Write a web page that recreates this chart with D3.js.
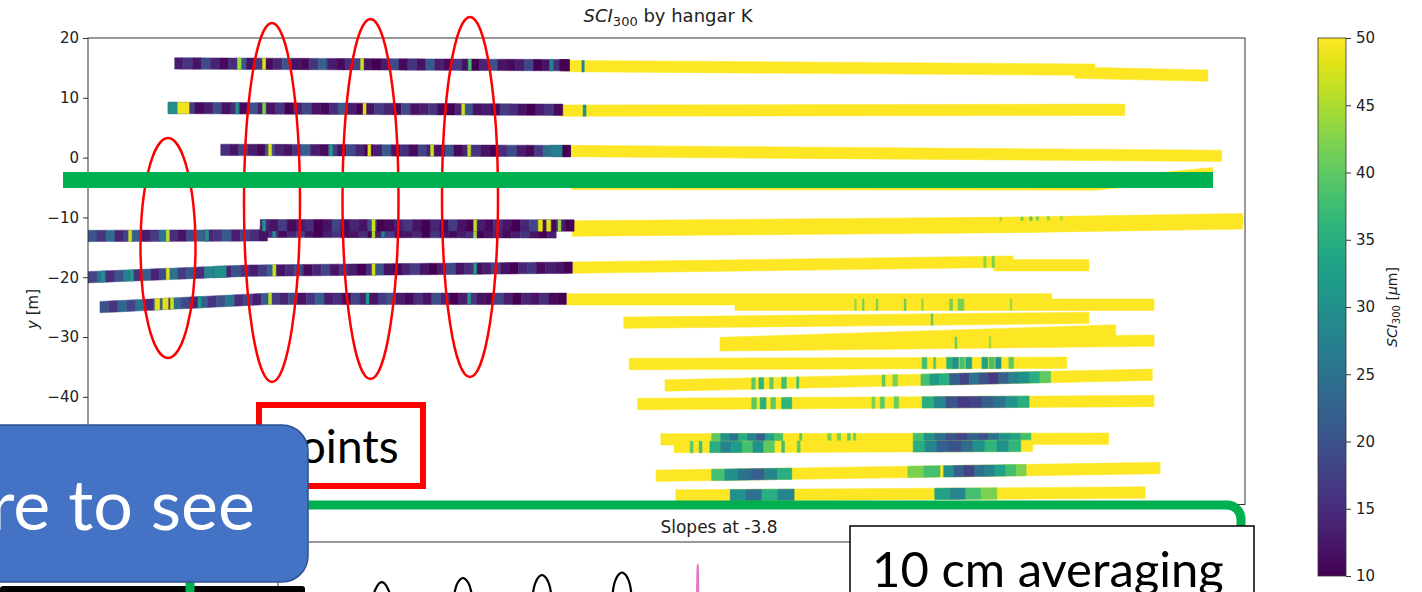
<!DOCTYPE html>
<html>
<head>
<meta charset="utf-8">
<script src="https://cdn.jsdelivr.net/npm/d3@7"></script>
<style>
  html, body { margin: 0; padding: 0; background: #fff; }
  svg { display: block; }
  .mpl text { font-family: "DejaVu Sans", sans-serif; fill: #222; }
  .slide { font-family: "Lato", "Open Sans", sans-serif; }
</style>
</head>
<body>
<svg id="fig" width="1422" height="592"></svg>
<script>
// ---------------------------------------------------------------
// Survey tracks of SCI300 [µm] around hangar K.
// Each track: centreline nodes [x m, y m]; dark (measured) parts
// carry a cell sequence of 1.5 m cells; spots are [x0, x1, value].
// ---------------------------------------------------------------
const cellStep = 1.5;

// upper three tracks (west part measured, east part saturated)
const lineA = [[4.5, 15.75], [70.5, 15.45]];
const cellsA = [13,16,12,19,14,11,15,21,12,17,11,14,20,12,11,16,22,13,11,15,18,12,10,13,19,11,16,12,21,13,11,17,12,10,14,20,12,11,13,18,10,12,15,11];
const spotsA = [[15.0,15.6,44],[19.2,19.7,48],[35.6,36.1,47],[53.6,54.1,38],[67.2,67.8,28],[68.9,70.5,10]];
const lineAy = [[70.1, 15.3], [158.4, 14.7]];
const spotsAy = [[72.6, 73.0, 28]];
const lineA2y = [[155.0, 14.2], [177.3, 13.7]];

const lineB = [[3.4, 8.3], [69.4, 8.0]];
const cellsB = [14,12,17,11,13,19,12,15,11,20,13,12,16,10,14,18,12,11,15,21,13,10,12,17,14,11,19,12,13,16,11,10,14,20,12,13,11,17,15,12,10,13,16,11];
const spotsB = [[3.4,5.0,30],[5.0,6.9,49],[14.7,15.2,30],[19.2,19.7,42],[36.0,36.5,48],[52.5,53.0,47]];
const lineBy = [[69.1, 7.85], [163.4, 8.0]];
const spotsBy = [[72.8, 73.3, 30]];

const lineC = [[12.2, 1.3], [70.7, 1.1]];
const cellsC = [15,12,18,13,11,20,14,12,16,22,13,11,17,12,19,14,10,13,21,12,15,11,18,13,12,20,11,14,16,12,10,15,19,13,11,17,24,14,11];
const spotsC = [[20.2,20.7,48],[30.4,30.9,32],[36.8,37.3,48],[47.3,47.8,47],[53.5,54.0,46],[67.4,69.4,27],[69.4,70.7,10]];
const lineCy = [[70.3, 1.1], [179.6, 0.3]];
const lineC2y = [[70.9, -4.4], [158.4, -4.5], [178.1, -2.6]];

// middle three tracks
const lineD1 = [[-10, -13.1], [20, -13.0]];
const cellsD1 = [20,16,24,14,18,22,13,17,25,15,12,19,23,14,16,21,13,18,15,12];
const spotsD1 = [[-3.2,-2.7,47],[3.1,3.6,46],[9.6,10.2,30]];
const lineD2 = [[18.8, -11.3], [71.3, -11.35]];
const cellsD2 = [14,12,17,11,13,15,10,12,18,11,14,12,19,10,11,13,16,12,10,14,11,17,12,10,13,11,15,12,10,14,18,12,11,13,10];
const spotsD2 = [[19.2,19.7,30],[37.5,38.0,47],[54.5,55.0,46],[65.3,66.0,48],[66.7,67.4,48],[68.6,69.1,44]];
const lineD3 = [[18.8, -12.4], [68.3, -12.5]];
const cellsD3 = [12,15,11,14,18,12,10,13,16,11,12,15,10,13,17,11,12,14,10,16,12,11,13,15,10,12,14,11,13,16,12,10,13];
const spotsD3 = [[20.9,21.4,30],[37.5,38.0,45],[39.1,39.6,28],[54.5,55.0,44]];
const lineDy1 = [[71.0, -11.5], [144.7, -10.9], [183.1, -10.3]];
const lineDy2 = [[71.0, -12.2], [144.7, -11.6], [183.1, -11.0]];
const spotsDy = [[142.5,142.8,44],[146.0,146.4,42],[147.5,147.9,40],[148.6,149.0,42],[150.4,150.8,43],[152.6,153.0,45]];

const lineE = [[-10, -20.0], [16.9, -18.9], [71.0, -18.4]];
const cellsE = [18,24,15,20,27,16,22,14,19,25,17,21,15,28,18,14,20,16,13,17,22,12,15,19,11,14,18,12,16,13,10,15,20,12,11,14,17,12,10,13,19,12,15,11,13,18,12,10,14,16,11,13,12,10];
const spotsE = [[-7.8,-7.3,30],[-2.9,-2.4,32],[3.1,3.6,48],[11.1,13.1,30],[20.9,21.4,47],[37.5,38.0,47],[54.5,55.0,32]];
const lineEy = [[71.0, -18.4], [144.7, -17.4]];
const spotsEy = [[139.8,140.2,43],[141.2,141.6,42]];
const lineE2y = [[141.5, -18.0], [157.4, -18.0]];

const lineF = [[-8, -25.0], [20.4, -23.6], [70.0, -23.6]];
const cellsF = [20,16,23,18,25,15,21,17,24,19,14,22,16,20,26,15,18,13,21,17,14,19,12,16,22,13,15,11,18,14,12,17,20,13,11,15,12,19,14,10,13,16,12,11,18,13,10,14,12,15,11,10];
const spotsF = [[1.2,2.0,48],[2.5,3.4,48],[3.8,4.3,47],[8.4,8.9,32],[20.2,20.7,46],[36.5,37.0,32],[53.5,54.0,30]];
const lineFy = [[70.0, -23.7], [151.2, -23.7]];

// south-east tracks
const lineG = [[98.2, -24.6], [168.3, -24.6]];
const spotsG = [[118.2,118.5,44],[119.5,119.8,42],[121.8,122.1,42],[126.5,126.8,40],[129.4,129.7,44],[134.1,134.6,42],[135.5,136.5,42],[144.2,144.5,44]];
const lineH = [[79.6, -27.6], [157.4, -26.8]];
const spotsH = [[131.0,131.3,40]];
const lineI = [[95.7, -31.0], [161.9, -28.9]];
const lineJ = [[95.7, -31.4], [168.3, -30.6]];
const spotsJ = [[135.0,135.3,40],[140.7,141.0,44]];
const lineK = [[80.5, -34.5], [153.7, -34.3]];
const spotsK = [[129.5,130.3,38],[131.4,131.8,40],[133.6,134.6,35],[134.6,135.6,30],[135.8,136.6,38],[136.8,137.8,33],[139.5,140.5,33],[140.7,141.6,38],[141.8,142.7,30],[144.0,144.8,40]];
const lineL = [[86.5, -38.1], [168.0, -36.3]];
const spotsL = [[101.0,101.6,40],[102.2,103.0,36],[104.0,104.6,40],[106.0,106.8,38],[108.5,108.9,38],[122.8,123.3,40],[124.6,125.4,42],[129.3,130.8,38],[130.8,132.4,32],[132.4,134.1,35],[134.1,135.8,22],[135.8,137.4,18],[137.4,139.0,25],[139.0,140.6,20],[140.6,142.3,17],[142.3,144.0,22],[144.0,145.8,28],[145.8,147.5,30],[147.5,149.2,35],[149.2,151.0,40]];
const lineM = [[81.9, -41.2], [168.3, -40.7]];
const spotsM = [[101.0,101.8,40],[102.4,103.4,35],[104.2,105.0,40],[106.0,107.7,36],[121.1,121.6,42],[122.5,123.2,40],[124.8,125.6,41],[129.5,131.5,35],[131.5,133.5,28],[133.5,135.5,20],[135.5,137.5,17],[137.5,139.5,18],[139.5,141.5,22],[141.5,143.5,25],[143.5,145.5,30],[145.5,147.4,35]];
const lineN = [[85.8, -47.1], [160.7, -47.0]];
const spotsN = [[94.3,95.8,40],[95.8,97.3,30],[97.3,98.8,25],[98.8,100.3,35],[100.3,101.8,28],[101.8,103.3,22],[103.3,104.8,33],[104.8,106.2,38],[109.0,109.4,40],[113.7,114.3,42],[115.3,115.9,42],[117.0,117.5,40],[118.0,118.4,41],[128.0,129.8,38],[129.8,131.6,30],[131.6,133.4,25],[133.4,135.2,20],[135.2,137.0,18],[137.0,138.8,22],[138.8,140.6,20],[140.6,142.4,25],[142.4,144.2,30],[144.2,146.0,33],[146.0,147.7,38]];
const lineN2 = [[88.0, -48.4], [148.0, -48.2]];
const spotsN2 = [[90.7,91.2,40],[92.2,92.7,38],[94.0,95.8,35],[95.8,97.6,28],[97.6,99.4,32],[99.4,101.2,38],[101.2,103.0,30],[103.0,104.8,40],[106.0,106.5,38],[108.6,109.1,40],[128.0,130.0,35],[130.0,132.0,28],[132.0,134.0,22],[134.0,136.0,20],[136.0,138.0,24],[138.0,140.0,30],[140.0,142.0,36],[142.0,144.0,30],[144.0,146.0,36]];
const lineO = [[85.0, -53.2], [169.3, -51.9]];
const spotsO = [[94.3,96.5,38],[96.5,98.7,30],[98.7,100.9,25],[100.9,103.1,22],[103.1,105.3,28],[105.3,107.7,35],[127.1,129.8,42],[129.8,132.5,38],[133.1,134.8,30],[134.8,136.5,22],[136.5,138.3,18],[138.3,140.0,25],[140.0,141.7,28],[141.7,143.5,33],[143.5,145.2,38],[145.2,146.9,42]];
const lineP = [[88.3, -56.5], [166.8, -56.0]];
const spotsP = [[97.4,100.0,30],[100.0,102.7,25],[102.7,105.4,35],[105.4,108.1,28],[131.6,134.2,33],[134.2,136.8,28],[136.8,139.4,38],[139.4,142.0,42]];

const saturated = 50;       // value of the saturated (yellow) stretches
const yTicks = [20, 10, 0, -10, -20, -30, -40];
const cbTicks = [10, 15, 20, 25, 30, 35, 40, 45, 50];
const cbDomain = [10, 50];

// slope profile (lower panel): black = profile peaks, pink = spike
const slopePeaks = [
  [15.47,0.09],[15.63,0.31],[15.77,0.42],[15.88,0.48],[16.05,0.53],[16.3,0.57],[16.63,0.61],[16.97,0.635],[17.3,0.644],[17.63,0.635],[17.97,0.61],[18.3,0.57],[18.55,0.53],[18.72,0.48],[18.83,0.42],[18.97,0.31],[19.13,0.09],
  [29.0,0.13],[29.16,0.36],[29.3,0.47],[29.41,0.52],[29.58,0.57],[29.83,0.62],[30.16,0.656],[30.5,0.68],[30.83,0.689],[31.16,0.68],[31.5,0.656],[31.83,0.62],[32.08,0.57],[32.25,0.52],[32.36,0.47],[32.5,0.36],[32.66,0.13],
  [42.17,0.17],[42.33,0.39],[42.47,0.5],[42.58,0.555],[42.75,0.605],[43.0,0.65],[43.33,0.689],[43.67,0.713],[44.0,0.722],[44.33,0.713],[44.67,0.689],[45.0,0.65],[45.25,0.605],[45.42,0.555],[45.53,0.5],[45.67,0.39],[45.83,0.17],
  [55.5,0.19],[55.66,0.42],[55.8,0.53],[55.91,0.583],[56.08,0.633],[56.33,0.678],[56.66,0.717],[57.0,0.741],[57.33,0.75],[57.66,0.741],[58.0,0.717],[58.33,0.678],[58.58,0.633],[58.75,0.583],[58.86,0.53],[59.0,0.42],[59.16,0.19]
];
const slopeSpike = [[69.75,0.0],[69.85,0.55],[69.9,0.76],[69.95,0.835],[70.0,0.8],[70.05,0.45],[70.1,0.0]];

// ---------------------------------------------------------------
const svg = d3.select("#fig");
const color = d3.scaleSequential(d3.interpolateViridis).domain(cbDomain);

const x = d3.scaleLinear().domain([-10, 183.5]).range([88, 1245]);
const y = d3.scaleLinear().domain([-58, 20]).range([504.5, 38]);
const halfWidth = 0.95; // half the swath width, m

function yOn(line, xv) {
  if (xv <= line[0][0]) return line[0][1];
  for (let i = 1; i < line.length; i++) {
    if (xv <= line[i][0]) {
      const [x0, y0] = line[i - 1], [x1, y1] = line[i];
      return y0 + (y1 - y0) * (xv - x0) / (x1 - x0);
    }
  }
  return line[line.length - 1][1];
}
function band(line, a, b) {
  const xs = [a, ...line.map(p => p[0]).filter(v => v > a && v < b), b];
  const top = xs.map(v => [x(v), y(yOn(line, v) + halfWidth)]);
  const bot = xs.slice().reverse().map(v => [x(v), y(yOn(line, v) - halfWidth)]);
  return d3.line()(top.concat(bot)) + "Z";
}

const saturatedTracks = [
  { line: lineAy, spots: spotsAy },
  { line: lineA2y, spots: [] },
  { line: lineBy, spots: spotsBy },
  { line: lineC2y, spots: [] },
  { line: lineCy, spots: [] },
  { line: lineDy1, spots: spotsDy },
  { line: lineDy2, spots: [] },
  { line: lineE2y, spots: [] },
  { line: lineEy, spots: spotsEy },
  { line: lineFy, spots: [] },
  { line: lineG, spots: spotsG },
  { line: lineH, spots: spotsH },
  { line: lineI, spots: [] },
  { line: lineJ, spots: spotsJ },
  { line: lineK, spots: spotsK },
  { line: lineL, spots: spotsL },
  { line: lineM, spots: spotsM },
  { line: lineN, spots: spotsN },
  { line: lineN2, spots: spotsN2 },
  { line: lineO, spots: spotsO },
  { line: lineP, spots: spotsP }
];
const measuredTracks = [
  { line: lineA, from: 4.5, cells: cellsA, spots: spotsA },
  { line: lineB, from: 3.4, cells: cellsB, spots: spotsB },
  { line: lineC, from: 12.2, cells: cellsC, spots: spotsC },
  { line: lineD1, from: -10, cells: cellsD1, spots: spotsD1 },
  { line: lineD3, from: 18.8, cells: cellsD3, spots: spotsD3 },
  { line: lineD2, from: 18.8, cells: cellsD2, spots: spotsD2 },
  { line: lineE, from: -10, cells: cellsE, spots: spotsE },
  { line: lineF, from: -8, cells: cellsF, spots: spotsF }
];

const runs = [];
saturatedTracks.forEach(t => {
  const a = t.line[0][0], b = t.line[t.line.length - 1][0];
  runs.push({ line: t.line, a, b, v: saturated });
  t.spots.forEach(s => runs.push({ line: t.line, a: s[0], b: s[1], v: s[2] }));
});
measuredTracks.forEach(t => {
  t.cells.forEach((v, i) => runs.push({ line: t.line, a: t.from + i * cellStep, b: t.from + (i + 1) * cellStep, v }));
  t.spots.forEach(s => runs.push({ line: t.line, a: s[0], b: s[1], v: s[2] }));
});

const plot = svg.append("g").attr("class", "mpl");
plot.append("defs").append("clipPath").attr("id", "axclip")
  .append("rect").attr("x", 88).attr("y", 38).attr("width", 1157).attr("height", 466.5);

plot.append("g").attr("clip-path", "url(#axclip)")
  .selectAll("path").data(runs).join("path")
  .attr("d", r => band(r.line, r.a, r.b))
  .attr("fill", r => color(r.v))
  .attr("stroke", r => color(r.v))
  .attr("stroke-width", 0.5);

// frame and y axis
plot.append("rect").attr("x", 88).attr("y", 38).attr("width", 1157).attr("height", 466.5)
  .attr("fill", "none").attr("stroke", "#333").attr("stroke-width", 1);
const yAxis = plot.append("g").attr("transform", "translate(88,0)")
  .call(d3.axisLeft(y).tickValues(yTicks).tickSize(5).tickPadding(4)
    .tickFormat(d => d < 0 ? "\u2212" + Math.abs(d) : String(d)));
yAxis.select(".domain").remove();
yAxis.selectAll("line").attr("stroke", "#333");
yAxis.selectAll("text").attr("font-size", 15).attr("font-family", "DejaVu Sans").attr("fill", "#222");

const title = plot.append("text").attr("x", 668).attr("y", 22).attr("text-anchor", "middle").attr("font-size", 18);
title.append("tspan").attr("font-style", "italic").text("SCI");
title.append("tspan").attr("font-size", 13).attr("dy", 4).text("300");
title.append("tspan").attr("dy", -4).text(" by hangar K");

const ylab = plot.append("text").attr("transform", "translate(38,309) rotate(-90)")
  .attr("text-anchor", "middle").attr("font-size", 15);
ylab.append("tspan").attr("font-style", "italic").text("y");
ylab.append("tspan").text(" [m]");

// colour bar
const cb = d3.scaleLinear().domain(cbDomain).range([576, 38]);
const grad = plot.select("defs").append("linearGradient").attr("id", "viridisbar")
  .attr("x1", 0).attr("y1", 1).attr("x2", 0).attr("y2", 0);
d3.range(0, 1.0001, 0.05).forEach(t => grad.append("stop").attr("offset", t).attr("stop-color", d3.interpolateViridis(t)));
plot.append("rect").attr("x", 1318).attr("y", 38).attr("width", 28).attr("height", 538)
  .attr("fill", "url(#viridisbar)").attr("stroke", "#333").attr("stroke-width", 0.8);
const cbAxis = plot.append("g").attr("transform", "translate(1346,0)")
  .call(d3.axisRight(cb).tickValues(cbTicks).tickSize(5).tickPadding(5));
cbAxis.select(".domain").remove();
cbAxis.selectAll("line").attr("stroke", "#333");
cbAxis.selectAll("text").attr("font-size", 15).attr("font-family", "DejaVu Sans").attr("fill", "#222");
const cblab = plot.append("text").attr("transform", "translate(1397,307) rotate(-90)")
  .attr("text-anchor", "middle").attr("font-size", 14);
cblab.append("tspan").attr("font-style", "italic").text("SCI");
cblab.append("tspan").attr("font-size", 10).attr("dy", 3).text("300");
cblab.append("tspan").attr("dy", -3).text(" [");
cblab.append("tspan").attr("font-style", "italic").text("\u03bc");
cblab.append("tspan").text("m]");

// lower panel: slopes
const x2 = d3.scaleLinear().domain([0, 162]).range([278, 1250]);
const y2 = d3.scaleLinear().domain([0, 1]).range([640, 550]);
plot.append("text").attr("x", 719).attr("y", 533).attr("text-anchor", "middle").attr("font-size", 17).text("Slopes at -3.8");
plot.append("rect").attr("x", 278).attr("y", 542).attr("width", 972).attr("height", 300)
  .attr("fill", "none").attr("stroke", "#333").attr("stroke-width", 1);
const slopeLine = d3.line().x(d => x2(d[0])).y(d => y2(d[1])).curve(d3.curveMonotoneX);
plot.append("path").attr("d", slopeLine(slopePeaks)).attr("fill", "none").attr("stroke", "#000").attr("stroke-width", 2.2);
plot.append("path").attr("d", slopeLine(slopeSpike)).attr("fill", "none").attr("stroke", "#e377c2").attr("stroke-width", 2);

// ---------------------------------------------------------------
// slide call-outs drawn over the figure
const over = svg.append("g").attr("class", "slide");
[[168, 248, 27.5, 110], [272, 202.5, 28, 179.5], [370.5, 199, 28, 180], [470, 197, 28, 180]].forEach(e =>
  over.append("ellipse").attr("cx", e[0]).attr("cy", e[1]).attr("rx", e[2]).attr("ry", e[3])
    .attr("fill", "none").attr("stroke", "#ff0000").attr("stroke-width", 2.5));
over.append("rect").attr("x", 63).attr("y", 172).attr("width", 1150).attr("height", 16).attr("fill", "#00b050");

over.append("rect").attr("x", 0).attr("y", 586).attr("width", 305).attr("height", 10).attr("rx", 3).attr("fill", "#000");
over.append("rect").attr("x", 190).attr("y", 505).attr("width", 1051).attr("height", 200).attr("rx", 14)
  .attr("fill", "none").attr("stroke", "#00b050").attr("stroke-width", 9);

over.append("rect").attr("x", 259).attr("y", 405).attr("width", 164).attr("height", 81)
  .attr("fill", "#fff").attr("stroke", "#ff0000").attr("stroke-width", 6);
over.append("text").attr("x", 274).attr("y", 463).attr("font-size", 46).attr("fill", "#000").text("points");

over.append("rect").attr("x", -30).attr("y", 425).attr("width", 338).attr("height", 157).attr("rx", 26)
  .attr("fill", "#4472c4").attr("stroke", "#2f528f").attr("stroke-width", 1.5);
over.append("text").attr("x", 255).attr("y", 530).attr("text-anchor", "end").attr("font-size", 70)
  .attr("fill", "#fff").text("re to see");

over.append("rect").attr("x", 850).attr("y", 526).attr("width", 404).attr("height", 100)
  .attr("fill", "#fff").attr("stroke", "#000").attr("stroke-width", 1.5);
over.append("text").attr("x", 872).attr("y", 587).attr("font-size", 49).attr("fill", "#000").text("10 cm averaging");
</script>
</body>
</html>
